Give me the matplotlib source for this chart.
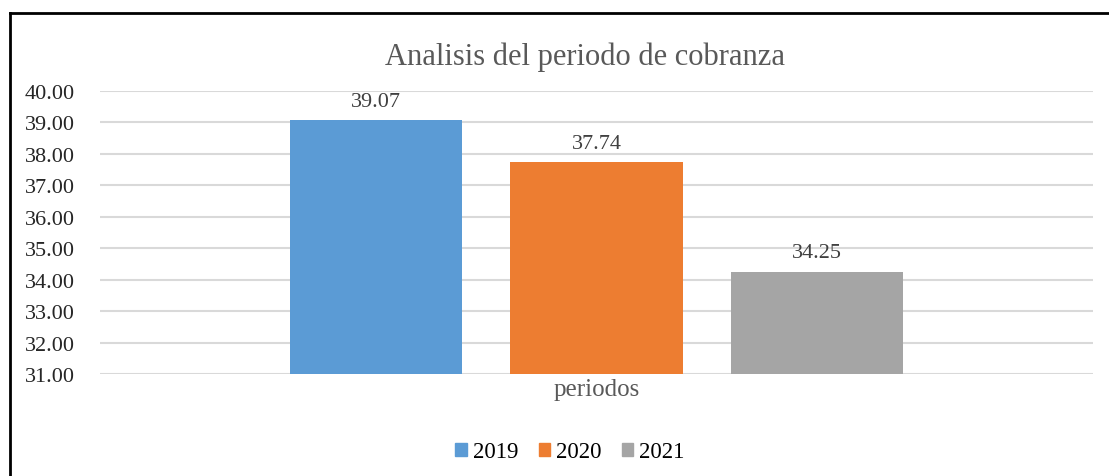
import matplotlib
matplotlib.use("Agg")
import matplotlib.pyplot as plt
from matplotlib.lines import Line2D

years = ["2019", "2020", "2021"]
values = [39.07, 37.74, 34.25]
colors = ["#5B9BD5", "#ED7D31", "#A5A5A5"]
yticks = [31, 32, 33, 34, 35, 36, 37, 38, 39, 40]
category = "periodos"
title = "Analisis del periodo de cobranza"

plt.rcParams['font.family'] = ['Liberation Serif', 'DejaVu Serif']

W, H = 1109, 477
fig = plt.figure(figsize=(W / 100, H / 100), dpi=100)
ax = fig.add_axes([100 / W, 1 - 375 / H, 993 / W, (375 - 92) / H])

offsets = [-0.444, 0.0, 0.444]
width = 0.348
for off, v, c, lab in zip(offsets, values, colors, years):
    ax.bar(off, v - 31, bottom=31, width=width, color=c, label=lab, zorder=3)
    ax.text(off, v + 0.3, f"{v:.2f}", ha="center", va="bottom",
            fontsize=16, color="#404040")

ax.set_xlim(-1, 1)
ax.set_ylim(31, 40)
ax.set_yticks(yticks)
ax.set_yticklabels([f"{t:.2f}" for t in yticks], fontsize=16, color="#262626")
ax.tick_params(axis="y", length=0, pad=18)
ax.set_xticks([0])
ax.set_xticklabels([category], fontsize=18, color="#595959")
ax.tick_params(axis="x", length=0, pad=3)
ax.grid(axis="y", color="#D9D9D9", linewidth=1.5, zorder=0)
for s in ax.spines.values():
    s.set_visible(False)

fig.text(585 / W, 1 - 57 / H, title, ha="center", va="center",
         fontsize=22, color="#595959")

handles = [plt.Rectangle((0, 0), 1, 1, color=c) for c in colors]
fig.legend(handles, years, loc="center", bbox_to_anchor=(570 / W, 1 - 453 / H),
           ncol=3, frameon=False, fontsize=16.5, handlelength=0.5, handleheight=0.5,
           handletextpad=0.25, columnspacing=0.9)

# outer frame (left and top edges)
fig.add_artist(Line2D([10 / W, 10 / W], [0, 1 - 14 / H], transform=fig.transFigure,
                      color="black", linewidth=2))
fig.add_artist(Line2D([10 / W, 1], [1 - 14 / H, 1 - 14 / H], transform=fig.transFigure,
                      color="black", linewidth=2))

fig.savefig("out.png", dpi=100)
